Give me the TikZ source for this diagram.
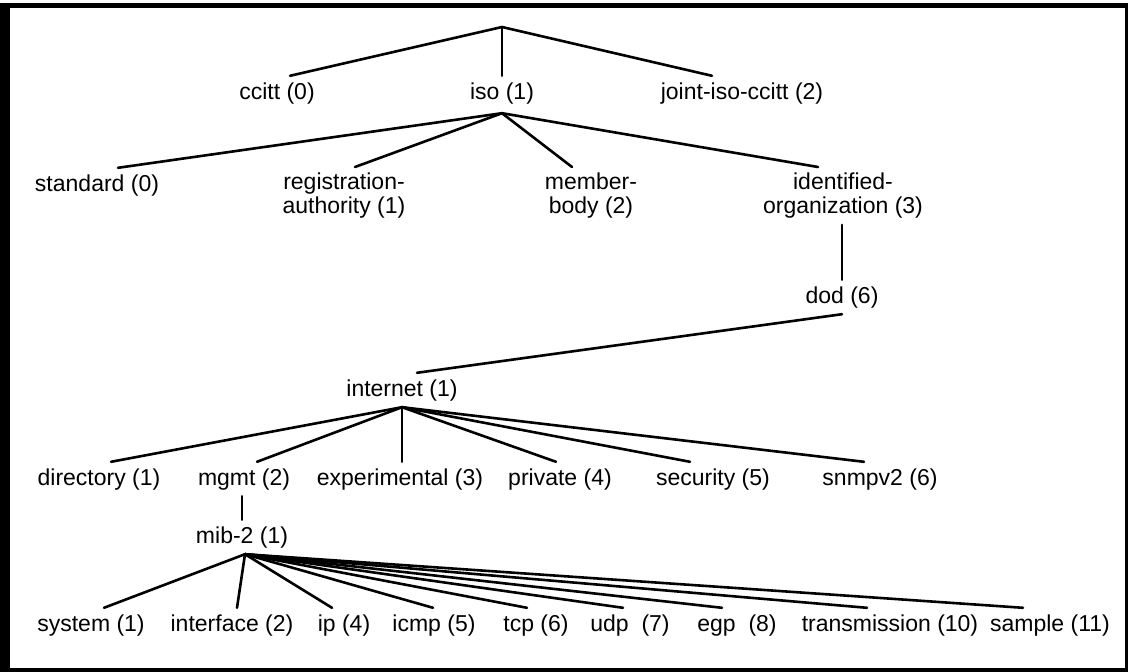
\documentclass[tikz,border=0pt]{standalone}
\usepackage{fontspec}
\setmainfont{Liberation Sans}
\begin{document}
\begin{tikzpicture}[x=1pt,y=-1pt,
  lbl/.style={font=\fontsize{23}{24}\selectfont, inner xsep=0pt, inner ysep=6pt,
              text height=17pt, text depth=5pt, anchor=base},
  lbltwo/.style={font=\fontsize{23}{24}\selectfont, inner xsep=0pt, inner ysep=6pt,
                 align=center, anchor=north},
  link/.style={line width=2.6pt, line cap=round}]
% page and black frame
\useasboundingbox (0,0) rectangle (1128,672);
\fill[white] (0,0) rectangle (1128,672);
\fill[black] (0,3) rectangle (1128,672);
\fill[white] (10,8) rectangle (1125,668);

% level 1
\coordinate (top) at (502,27);
\node[lbl] (ccitt) at (277,99) {ccitt (0)};
\node[lbl] (iso) at (502,99) {iso (1)};
\node[lbl] (joint) at (742,99) {joint-iso-ccitt (2)};
\draw[link] (top) -- ([xshift=13pt]ccitt.north);
\draw[link] (top) -- (iso.north);
\draw[link] (top) -- ([xshift=-30pt]joint.north);

% level 2, below iso
\coordinate (isoF) at ([yshift=-3pt]iso.south);
\node[lbl] (standard) at (97,191) {standard (0)};
\node[lbltwo] (regauth) at (344,167) {registration-\\authority (1)};
\node[lbltwo] (member) at (591,167) {member-\\body (2)};
\node[lbltwo] (identorg) at (843,167) {identified-\\organization (3)};
\draw[link] (isoF) -- ([xshift=21pt]standard.north);
\draw[link] (isoF) -- ([xshift=11pt]regauth.north);
\draw[link] (isoF) -- ([xshift=-19pt]member.north);
\draw[link] (isoF) -- ([xshift=-25pt]identorg.north);

% dod and internet
\node[lbl] (dod) at (842,303) {dod (6)};
\node[lbl] (internet) at (402,396) {internet (1)};
\draw[link] ([xshift=-1pt]identorg.south) -- (dod.north);
\draw[link] (dod.south) -- ([xshift=15pt]internet.north);

% children of internet
\coordinate (netF) at (internet.south);
\node[lbl] (directory) at (99,485) {directory (1)};
\node[lbl] (mgmt) at (244,485) {mgmt (2)};
\node[lbl] (experimental) at (400,485) {experimental (3)};
\node[lbl] (private) at (560,485) {private (4)};
\node[lbl] (security) at (713,485) {security (5)};
\node[lbl] (snmpv2) at (880,485) {snmpv2 (6)};
\draw[link] (netF) -- ([xshift=12pt]directory.north);
\draw[link] (netF) -- ([xshift=13pt]mgmt.north);
\draw[link] (netF) -- ([xshift=2pt]experimental.north);
\draw[link] (netF) -- ([xshift=-4pt]private.north);
\draw[link] (netF) -- ([xshift=-23pt]security.north);
\draw[link] (netF) -- ([xshift=-16pt]snmpv2.north);

% mib-2 and its groups
\node[lbl] (mib) at (242,543) {mib-2 (1)};
\draw[link] ([xshift=-2pt]mgmt.south) -- (mib.north);
\coordinate (mibF) at ([xshift=3pt]mib.south);
\node[lbl] (system) at (91,631) {system (1)};
\node[lbl] (interface) at (232,631) {interface (2)};
\node[lbl] (ip) at (344,631) {ip (4)};
\node[lbl] (icmp) at (434,631) {icmp (5)};
\node[lbl] (tcp) at (536,631) {tcp (6)};
\node[lbl] (udp) at (630,631) {udp\ \ (7)};
\node[lbl] (egp) at (737,631) {egp\ \ (8)};
\node[lbl] (transmission) at (890,631) {transmission (10)};
\node[lbl] (sample) at (1050,631) {sample (11)};
\draw[link] (mibF) -- ([xshift=13pt]system.north);
\draw[link] (mibF) -- ([xshift=5pt]interface.north);
\draw[link] (mibF) -- ([xshift=-12pt]ip.north);
\draw[link] (mibF) -- ([xshift=-1pt]icmp.north);
\draw[link] (mibF) -- ([xshift=-9pt]tcp.north);
\draw[link] (mibF) -- ([xshift=-7pt]udp.north);
\draw[link] (mibF) -- ([xshift=-15pt]egp.north);
\draw[link] (mibF) -- ([xshift=-23pt]transmission.north);
\draw[link] (mibF) -- ([xshift=-27pt]sample.north);
\end{tikzpicture}
\end{document}
